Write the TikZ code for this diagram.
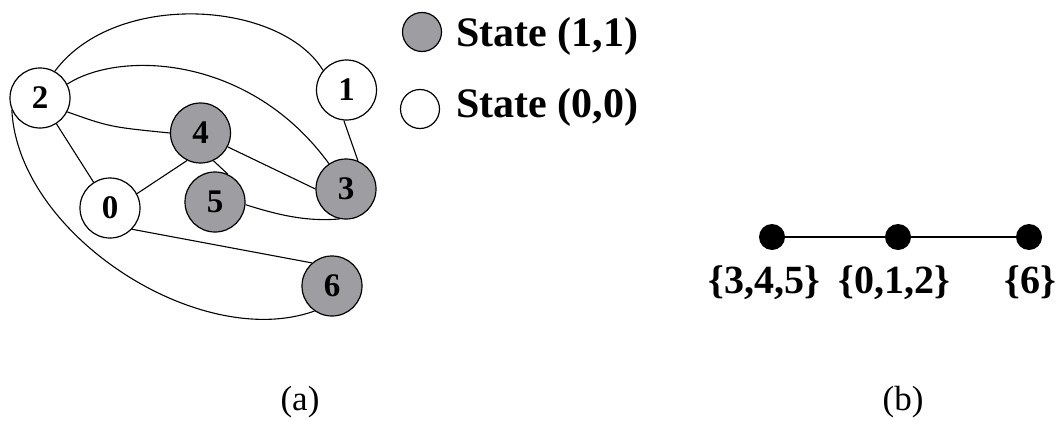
\documentclass[tikz,border=0pt]{standalone}
\usepackage{fontspec}
\setmainfont{Liberation Serif}
\definecolor{stategray}{RGB}{158,158,162}
\begin{document}
\begin{tikzpicture}[x=1pt,y=-1pt,
  vtx/.style={circle, draw=black, line width=1.2pt, minimum size=60pt, inner sep=0pt,
              font=\fontsize{33}{38}\selectfont\bfseries},
  stateon/.style={vtx, fill=stategray},
  stateoff/.style={vtx, fill=white},
  edge/.style={draw=black, line width=1.1pt},
  legcirc/.style={circle, draw=black, line width=1.2pt, minimum size=39pt, inner sep=0pt},
  legtext/.style={anchor=base west, inner sep=0pt, font=\fontsize{42}{48}\selectfont\bfseries},
  setdot/.style={circle, fill=black, minimum size=26pt, inner sep=0pt},
  setlabel/.style={anchor=base, inner sep=0pt, font=\fontsize{40}{48}\selectfont\bfseries},
  caption/.style={anchor=base, inner sep=0pt, font=\fontsize{35}{42}\selectfont}
]
\useasboundingbox (0,0) rectangle (1059,420);

% graph (a)
\node[stateoff] (n2) at (40,98) {2};
\node[stateoff] (n1) at (346.5,90) {1};
\node[stateon]  (n4) at (200.5,133) {4};
\node[stateon]  (n3) at (346,189) {3};
\node[stateoff] (n0) at (110,208) {0};
\node[stateon]  (n5) at (215,202) {5};
\node[stateon]  (n6) at (332,286) {6};

\draw[edge] (n2.61) .. controls (115,-10) and (280,0) .. (n1.140);
\draw[edge] (n2.27) .. controls (120,50) and (250,55) .. (n3.124);
\draw[edge] (n2.-27) .. controls (110,127) .. (n4.180);
\draw[edge] (n2) -- (n0);
\draw[edge] (n2.203) .. controls (18,235) and (200,352) .. (n6.235);
\draw[edge] (n0.28) -- (n4.244);
\draw[edge] (n4.295) -- (n5.65);
\draw[edge] (n4.333) -- (n3.180);
\draw[edge] (n5.355) .. controls (275,214) and (305,222) .. (n3.258);
\draw[edge] (n1.265) -- (n3.67);
\draw[edge] (n0.316) -- (n6.131);

% legend
\node[legcirc, fill=stategray] (lg1) at (422,32) {};
\node[legtext] (lt1) at (456,47) {State (1,1)};
\node[legcirc, fill=white] (lg2) at (420,109) {};
\node[legtext] (lt2) at (456,117) {State (0,0)};

% graph (b)
\node[setdot] (s1) at (772,237) {};
\node[setdot] (s2) at (898,237) {};
\node[setdot] (s3) at (1029,237) {};
\draw[line width=1.5pt] (s1) -- (s2) -- (s3);
\node[setlabel] (l1) at (764,293) {\{3,4,5\}};
\node[setlabel] (l2) at (894,293) {\{0,1,2\}};
\node[setlabel] (l3) at (1030,293) {\{6\}};

% captions
\node[caption] (ca) at (300,410) {(a)};
\node[caption] (cb) at (903,410) {(b)};
\end{tikzpicture}
\end{document}
